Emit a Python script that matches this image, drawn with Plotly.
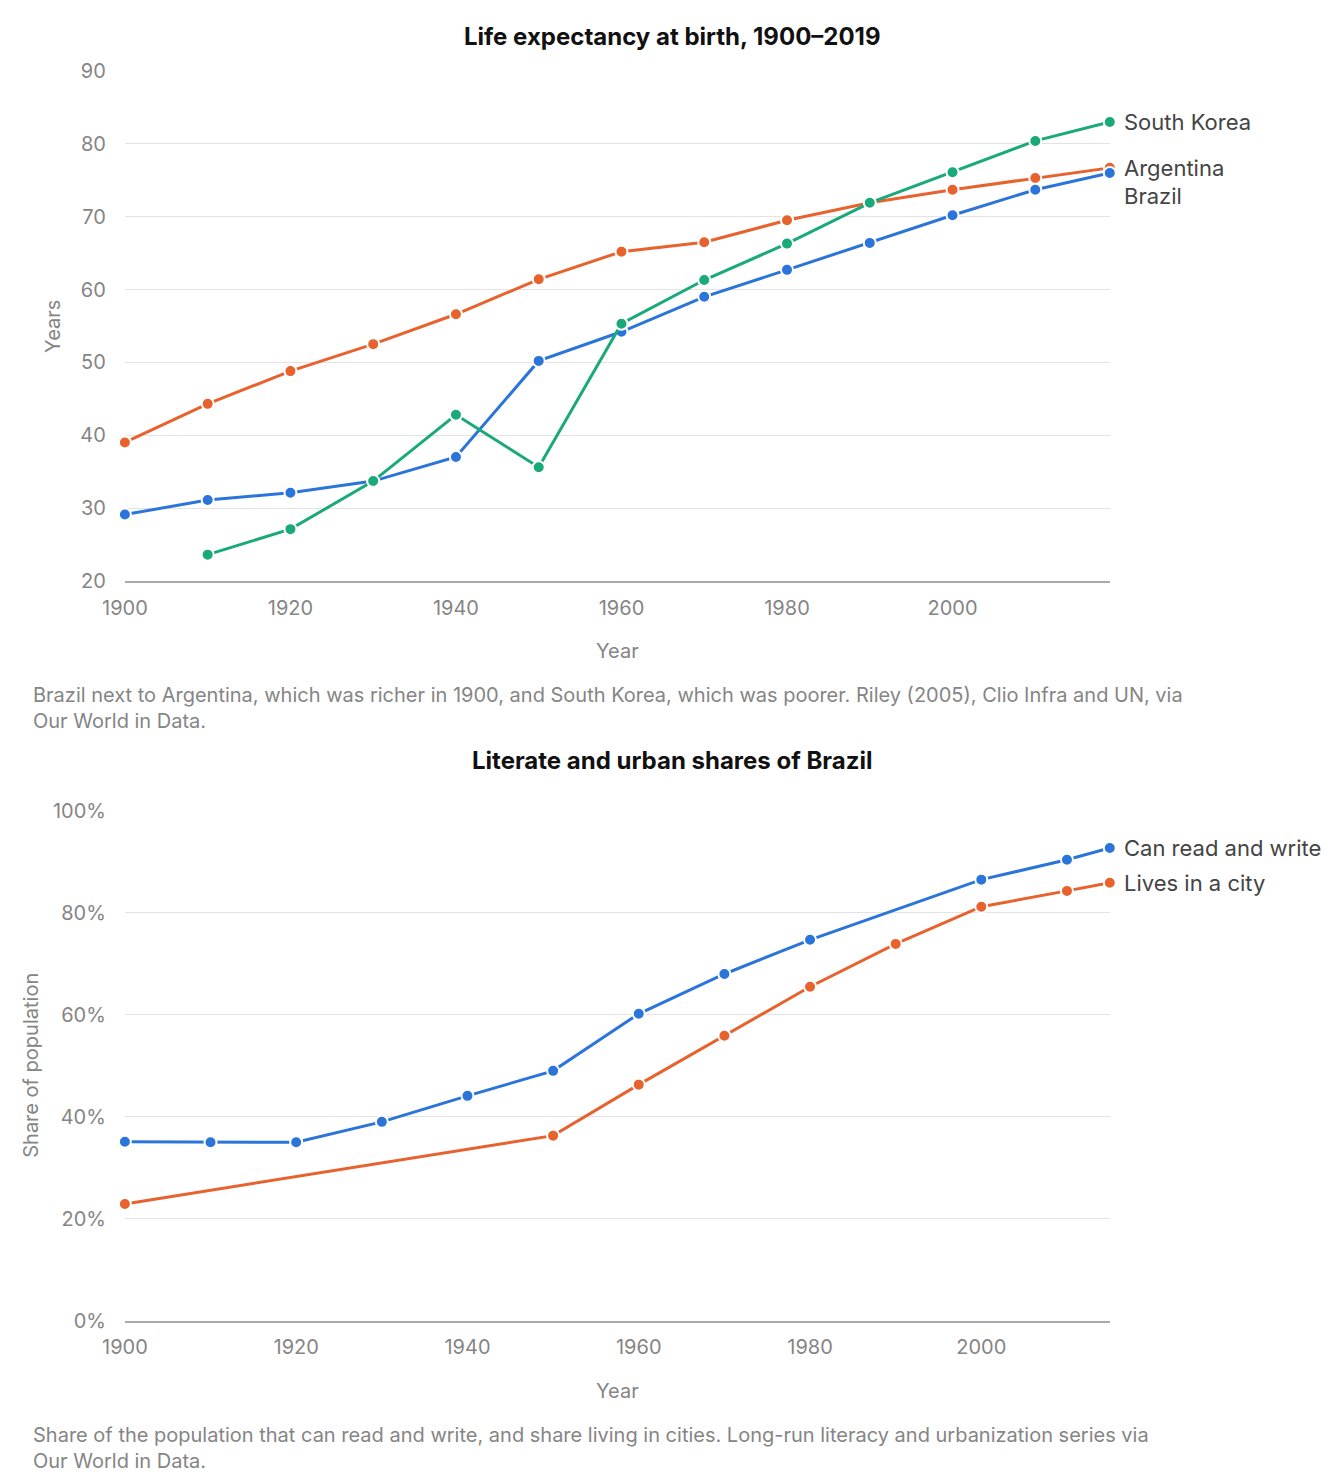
import plotly.graph_objects as go

years_top = [1900,1910,1920,1930,1940,1950,1960,1970,1980,1990,2000,2010,2019]
argentina = [39.0,44.3,48.8,52.5,56.6,61.4,65.2,66.5,69.5,71.9,73.7,75.3,76.7]
brazil = [29.1,31.1,32.1,33.7,37.0,50.2,54.2,59.0,62.7,66.4,70.2,73.7,76.0]
korea_years = [1910,1920,1930,1940,1950,1960,1970,1980,1990,2000,2010,2019]
korea = [23.6,27.1,33.7,42.8,35.6,55.3,61.3,66.3,71.9,76.1,80.4,83.0]

lit_years = [1900,1910,1920,1930,1940,1950,1960,1970,1980,2000,2010,2015]
literacy = [35.1,35.0,35.0,39.0,44.1,49.0,60.2,68.0,74.7,86.5,90.4,92.7]
urb_years = [1900,1950,1960,1970,1980,1990,2000,2010,2015]
urban = [22.9,36.3,46.3,55.9,65.5,73.9,81.2,84.3,85.9]

BLUE, ORANGE, GREEN = "#2b74d9", "#e8622d", "#19a97b"
FONT = "Inter"
GRAY = "#858585"
W, H = 1344, 1480

def px(P):
    return max(0.0, (P - 30) / 0.984)

def py(P):
    return max(0.0, (P - 19) / 0.984)

fig = go.Figure()
def line(x, y, c, xa, ya):
    fig.add_trace(go.Scatter(x=x, y=y, mode="lines+markers", xaxis=xa, yaxis=ya,
        line=dict(color=c, width=3), marker=dict(size=12, color=c, line=dict(color="white", width=2)),
        showlegend=False, cliponaxis=False))

line(years_top, argentina, ORANGE, "x", "y")
line(years_top, brazil, BLUE, "x", "y")
line(korea_years, korea, GREEN, "x", "y")
line(lit_years, literacy, BLUE, "x2", "y2")
line(urb_years, urban, ORANGE, "x2", "y2")

xd = [px(124)/W, px(1110)/W]
axc = dict(showgrid=False, showline=True, linecolor="#aaaaaa", linewidth=1.5, ticks="outside", ticklen=8,
           tickcolor="rgba(0,0,0,0)",
           tickfont=dict(size=20, color=GRAY, family=FONT), tickvals=[1900,1920,1940,1960,1980,2000], zeroline=False)
ayc = dict(showgrid=True, gridcolor="#e3e3e3", gridwidth=1.2, showline=False, zeroline=False,
           tickfont=dict(size=20, color=GRAY, family=FONT), ticks="outside", ticklen=14, tickcolor="rgba(0,0,0,0)")

fig.update_layout(
    width=W, height=H, margin=dict(l=0, r=0, t=0, b=0),
    plot_bgcolor="white", paper_bgcolor="white", font=dict(family=FONT),
    xaxis=dict(domain=xd, range=[1900, 2019], anchor="y", **axc),
    yaxis=dict(domain=[1-py(580)/H, 1-py(70)/H], range=[20, 90], dtick=10, anchor="x", **ayc),
    xaxis2=dict(domain=xd, range=[1900, 2015], anchor="y2", **axc),
    yaxis2=dict(domain=[1-py(1320)/H, 1-py(810)/H], range=[0, 100], dtick=20, ticksuffix="%", anchor="x2", **ayc),
)

def ann(x, y, text, size=20, color=GRAY, xanchor="left", yanchor="middle", angle=0, bold=False):
    fig.add_annotation(x=px(x)/W, y=1-py(y)/H, xref="paper", yref="paper", text=f"<b>{text}</b>" if bold else text,
        showarrow=False, xanchor=xanchor, yanchor=yanchor, textangle=angle, align="left",
        font=dict(size=size, color=color, family=FONT))

fig.add_annotation(x=px(672)/W, y=1.0, xref="paper", yref="paper", text="<b>Life expectancy at birth, 1900–2019</b>",
    showarrow=False, xanchor="center", yanchor="top", font=dict(size=24, color="#111", family=FONT))
ann(672, 760, "Literate and urban shares of Brazil", size=24, color="#111", xanchor="center", bold=True)
ann(52, 325, "Years", angle=-90, xanchor="center")
ann(30, 1065, "Share of population", angle=-90, xanchor="center")
ann(617, 650, "Year", xanchor="center")
ann(617, 1390, "Year", xanchor="center")
ann(0, 707, "Brazil next to Argentina, which was richer in 1900, and South Korea, which was poorer. Riley (2005), Clio Infra and UN, via<br>Our World in Data.")
ann(0, 1447, "Share of the population that can read and write, and share living in cities. Long-run literacy and urbanization series via<br>Our World in Data.")
ann(1122, 121, "South Korea", size=22, color="#444")
ann(1122, 167, "Argentina", size=22, color="#444")
ann(1122, 195, "Brazil", size=22, color="#444")
ann(1122, 847, "Can read and write", size=22, color="#444")
ann(1122, 882, "Lives in a city", size=22, color="#444")

fig.write_html("out.html")
